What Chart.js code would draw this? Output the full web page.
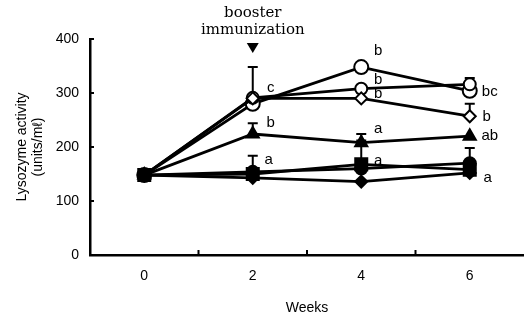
<!DOCTYPE html>
<html>
<head>
<meta charset="utf-8">
<script src="https://cdn.jsdelivr.net/npm/chart.js@4"></script>
<style>
  html, body { margin: 0; padding: 0; background: #fff; }
  #wrap { width: 524px; height: 321px; }
</style>
</head>
<body>
<div id="wrap"><canvas id="c" width="524" height="321"></canvas></div>
<script>
const weeks = ['0', '2', '4', '6'];
const yTicks = [0, 100, 200, 300, 400];

// lysozyme activity (units/ml) per group
const openCircle = [148, 280, 348, 304];
const openCircle2 = [148, 291, 308, 316];
const openDiamond = [148, 290, 290, 257];
const filledTriangle = [148, 224, 208, 220];
const filledSquare = [148, 150, 168, 158];
const filledCircle = [148, 154, 160, 170];
const filledDiamond = [148, 143, 136, 152];

// upper end of error bars (null = none drawn)
const errOpenCircle = [null, null, null, null];
const errOpenCircle2 = [null, 348, null, 328];
const errOpenDiamond = [null, null, null, 280];
const errTriangle = [null, 244, 224, null];
const errSquare = [null, null, 212, null];
const errCircle = [null, 184, null, 198];
const errDiamond = [null, null, null, null];

// significance letters
const lettersOpenCircle = ['', '', 'b', 'bc'];
const lettersOpenCircle2 = ['', 'c', 'b', ''];
const lettersOpenDiamond = ['', '', 'b', 'b'];
const lettersTriangle = ['', 'b', 'a', 'ab'];
const lettersSquare = ['', '', 'a', 'a'];
const lettersCircle = ['', 'a', '', ''];
const lettersDiamond = ['', '', '', ''];

// label offsets (dx, dy) per week index
const letterOffsets = {
  openCircle: [null, null, [17, -16], [20, 1]],
  openCircle2: [null, [18, -10], [17, -9], null],
  openDiamond: [null, null, [17, -5], [17, 1]],
  triangle: [null, [18, -11], [17, -14], [20, 0]],
  square: [null, null, [17, -3], [18, 8]],
  circle: [null, [16, -12], null, null]
};

const sans = '"Liberation Sans", Arial, sans-serif';

function series(data, style, bg, radius, errs, letters, offs) {
  return {
    data: data,
    borderColor: '#000',
    borderWidth: 2.8,
    pointStyle: style,
    pointRadius: radius,
    pointBackgroundColor: bg,
    pointBorderColor: '#000',
    pointBorderWidth: 2,
    tension: 0,
    errs: errs,
    letters: letters,
    offs: offs
  };
}

const errorAndLetters = {
  id: 'errorAndLetters',
  beforeDatasetsDraw(chart) {
    const ctx = chart.ctx;
    const y = chart.scales.y;
    ctx.save();
    ctx.strokeStyle = '#000';
    ctx.lineWidth = 2;
    chart.data.datasets.forEach((ds, i) => {
      if (!ds.errs) return;
      const meta = chart.getDatasetMeta(i);
      ds.errs.forEach((e, j) => {
        if (e == null) return;
        const p = meta.data[j];
        const yt = y.getPixelForValue(e);
        ctx.beginPath();
        ctx.moveTo(p.x, p.y);
        ctx.lineTo(p.x, yt);
        ctx.moveTo(p.x - 5, yt);
        ctx.lineTo(p.x + 5, yt);
        ctx.stroke();
      });
    });
    ctx.restore();
  },
  afterDatasetsDraw(chart) {
    const ctx = chart.ctx;
    ctx.save();
    ctx.fillStyle = '#000';
    ctx.font = '15px ' + sans;
    ctx.textAlign = 'center';
    ctx.textBaseline = 'middle';
    chart.data.datasets.forEach((ds, i) => {
      if (!ds.letters) return;
      const meta = chart.getDatasetMeta(i);
      ds.letters.forEach((t, j) => {
        if (!t || !ds.offs[j]) return;
        const p = meta.data[j];
        ctx.fillText(t, p.x + ds.offs[j][0], p.y + ds.offs[j][1]);
      });
    });
    // axis tick marks pointing inward
    const xs = chart.scales.x, ys = chart.scales.y;
    ctx.strokeStyle = '#000';
    ctx.lineWidth = 2;
    ctx.beginPath();
    for (let k = 0; k < weeks.length - 1; k++) {
      const xm = (xs.getPixelForValue(k) + xs.getPixelForValue(k + 1)) / 2;
      ctx.moveTo(xm, ys.bottom);
      ctx.lineTo(xm, ys.bottom - 5);
    }
    yTicks.forEach(v => {
      const yy = ys.getPixelForValue(v);
      if (v === 0) return;
      ctx.moveTo(xs.left, yy);
      ctx.lineTo(xs.left + 4, yy);
    });
    ctx.stroke();
    // booster immunization marker
    const xb = xs.getPixelForValue(1);
    ctx.font = '15px "DejaVu Serif", "Liberation Serif", serif';
    ctx.fillText('booster', xb, 13);
    ctx.fillText('immunization', xb, 30);
    ctx.beginPath();
    ctx.moveTo(xb - 6, 43);
    ctx.lineTo(xb + 6, 43);
    ctx.lineTo(xb, 53);
    ctx.closePath();
    ctx.fill();
    ctx.restore();
  }
};

const crossOverlay = {
  data: openCircle,
  showLine: false,
  pointStyle: 'cross',
  pointRadius: 5,
  pointBorderColor: '#000',
  pointBorderWidth: 1.5
};

new Chart(document.getElementById('c'), {
  type: 'line',
  data: {
    labels: weeks,
    datasets: [
      series(filledDiamond, 'rectRot', '#000', 6, errDiamond, lettersDiamond, []),
      series(filledCircle, 'circle', '#000', 6, errCircle, lettersCircle, letterOffsets.circle),
      series(filledTriangle, 'triangle', '#000', 7, errTriangle, lettersTriangle, letterOffsets.triangle),
      series(openDiamond, 'rectRot', '#fff', 6, errOpenDiamond, lettersOpenDiamond, letterOffsets.openDiamond),
      series(openCircle2, 'circle', '#fff', 6, errOpenCircle2, lettersOpenCircle2, letterOffsets.openCircle2),
      series(openCircle, 'circle', '#fff', 7, errOpenCircle, lettersOpenCircle, letterOffsets.openCircle),
      crossOverlay,
      series(filledSquare, 'rect', '#000', 8.5, errSquare, lettersSquare, letterOffsets.square)
    ]
  },
  options: {
    responsive: false,
    animation: false,
    layout: { autoPadding: false, padding: { top: 39, right: 0, left: 0, bottom: 0 } },
    plugins: { legend: { display: false }, tooltip: { enabled: false } },
    scales: {
      x: {
        offset: true,
        grid: { display: false, drawTicks: false },
        border: { color: '#000', width: 2.5 },
        ticks: {
          color: '#000',
          padding: 13,
          font: { family: sans, size: 14 }
        },
        title: {
          display: true,
          text: 'Weeks',
          color: '#000',
          padding: { top: 22 },
          font: { family: sans, size: 14 }
        },
        afterFit(s) {
          s.height = 66;
          s.paddingLeft = 0;
          s.paddingRight = 0;
        }
      },
      y: {
        min: 0,
        max: 400,
        afterBuildTicks(s) { s.ticks = yTicks.map(v => ({ value: v })); },
        grid: { display: false, drawTicks: false },
        border: { color: '#000', width: 2.5 },
        ticks: {
          color: '#000',
          padding: 11,
          font: { family: sans, size: 14 }
        },
        title: {
          display: true,
          text: ['Lysozyme activity', '(units/m\u2113)'],
          color: '#000',
          font: { family: sans, size: 14, lineHeight: 1.15 },
          padding: { top: 14, bottom: 4 }
        },
        afterFit(s) { s.width = 90; }
      }
    }
  },
  plugins: [errorAndLetters]
});
</script>
</body>
</html>
